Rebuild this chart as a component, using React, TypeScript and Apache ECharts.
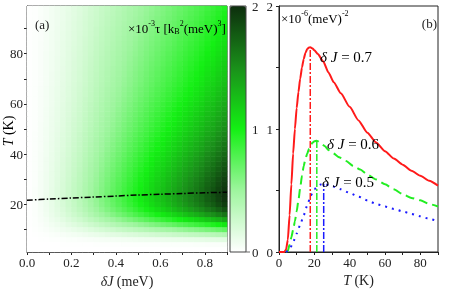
import React, { useEffect, useRef } from 'react';
import * as echarts from 'echarts';

// ---- Panel (a): heatmap tau(deltaJ, T), x10^-3 ----
const dJCenters = [0.0125, 0.0375, 0.0625, 0.0875, 0.1125, 0.1375, 0.1625, 0.1875, 0.2125, 0.2375,
  0.2625, 0.2875, 0.3125, 0.3375, 0.3625, 0.3875, 0.4125, 0.4375, 0.4625, 0.4875,
  0.5125, 0.5375, 0.5625, 0.5875, 0.6125, 0.6375, 0.6625, 0.6875, 0.7125, 0.7375,
  0.7625, 0.7875, 0.8125, 0.8375, 0.8625, 0.8875];
const dJProfile = [0.003, 0.012, 0.026, 0.043, 0.062, 0.083, 0.105, 0.13, 0.155, 0.18,
  0.21, 0.24, 0.27, 0.3, 0.33, 0.36, 0.39, 0.42, 0.45, 0.48,
  0.51, 0.54, 0.57, 0.6, 0.63, 0.66, 0.69, 0.72, 0.75, 0.78,
  0.81, 0.84, 0.88, 0.91, 0.95, 0.99];
const tCenters = [2, 4, 6, 8, 10, 12, 14, 16, 18, 20, 22, 24, 26, 28, 30, 32, 34, 36, 38, 40,
  42, 44, 46, 48, 50, 52, 54, 56, 58, 60, 62, 64, 66, 68, 70, 72, 74, 76, 78, 80,
  82, 84, 86, 88, 90, 92, 94, 96, 98];
const tProfile = [0.0, 0.03, 0.15, 0.4, 0.72, 1.05, 1.38, 1.65, 1.83, 1.94,
  1.99, 2.0, 1.98, 1.95, 1.92, 1.88, 1.84, 1.8, 1.76, 1.72,
  1.67, 1.64, 1.6, 1.56, 1.52, 1.49, 1.46, 1.43, 1.4, 1.37,
  1.34, 1.31, 1.29, 1.26, 1.24, 1.22, 1.2, 1.18, 1.16, 1.14,
  1.12, 1.1, 1.08, 1.06, 1.04, 1.02, 1.0, 0.98, 0.96];

const peakLineDJ = [0, 0.1, 0.2, 0.3, 0.4, 0.5, 0.6, 0.7, 0.8, 0.9];
const peakLineT = [21.6, 22.1, 22.5, 22.9, 23.3, 23.7, 24.0, 24.3, 24.6, 24.8];

const leftXLabels = [0, 0.2, 0.4, 0.6, 0.8];
const leftXTicks = [0, 0.1, 0.2, 0.3, 0.4, 0.5, 0.6, 0.7, 0.8, 0.9];
const leftYLabels = [20, 40, 60, 80];
const leftYTicks = [10, 20, 30, 40, 50, 60, 70, 80, 90];
const colorbarLabels = ['2', '1', '0'];

// ---- Panel (b): curves x10^-6 (meV)^-2 ----
const redT = [0, 3, 4, 5, 6, 7, 8, 9, 10, 11, 12, 13, 14, 15, 16, 17, 17.7, 19, 20, 22, 25, 28, 31, 35, 40, 45, 50, 55, 60, 65, 70, 75, 80, 85, 90];
const redV = [0, 0, 0.02, 0.1, 0.3, 0.55, 0.8, 1.0, 1.17, 1.3, 1.41, 1.5, 1.57, 1.62, 1.65, 1.662, 1.665, 1.655, 1.64, 1.61, 1.55, 1.46, 1.38, 1.29, 1.18, 1.07, 0.97, 0.89, 0.82, 0.76, 0.71, 0.66, 0.62, 0.58, 0.54];
const greenT = [4, 5, 6, 7, 8, 9, 10, 11, 12, 13, 14, 15, 16, 17, 18, 19, 20, 21.4, 22, 24, 26, 28, 30, 34, 38, 42, 46, 50, 55, 60, 65, 70, 75, 80, 85, 90];
const greenV = [0, 0.01, 0.06, 0.12, 0.18, 0.25, 0.33, 0.42, 0.52, 0.62, 0.7, 0.76, 0.8, 0.84, 0.87, 0.89, 0.9, 0.905, 0.9, 0.88, 0.86, 0.83, 0.81, 0.77, 0.74, 0.7, 0.67, 0.63, 0.59, 0.55, 0.51, 0.47, 0.44, 0.42, 0.39, 0.37];
const blueT = [4, 6, 8, 10, 12, 14, 16, 18, 20, 22, 24, 25.3, 26, 28, 30, 35, 40, 45, 50, 55, 60, 65, 70, 75, 80, 85, 90];
const blueV = [0, 0.02, 0.08, 0.15, 0.22, 0.3, 0.38, 0.46, 0.51, 0.54, 0.55, 0.555, 0.55, 0.545, 0.535, 0.51, 0.48, 0.45, 0.42, 0.39, 0.37, 0.35, 0.33, 0.31, 0.29, 0.27, 0.25];
const peakT = [17.7, 21.4, 25.3];
const peakV = [1.665, 0.905, 0.555];
const curveLabels = ['0.7', '0.6', '0.5'];

const rightXLabels = [0, 20, 40, 60, 80];
const rightXTicks = [0, 10, 20, 30, 40, 50, 60, 70, 80, 90];
const rightYLabels = [0, 1, 2];
const rightYTicks = [0, 0.5, 1, 1.5, 2];

const FONT = 'Liberation Serif';
const INK = '#222';

export default function App() {
  const ref = useRef<HTMLDivElement>(null);
  useEffect(() => {
    if (!ref.current) return;
    const chart = echarts.init(ref.current, undefined, { renderer: 'svg' });

    const heat: number[][] = [];
    for (let i = 0; i < dJCenters.length; i++) {
      for (let j = 0; j < tCenters.length; j++) {
        heat.push([i, j, Math.round(dJProfile[i] * tProfile[j] * 1000) / 1000]);
      }
    }

    const labelStyle = { fontFamily: FONT, fontSize: 13, color: INK };
    const nameStyle = {
      fontFamily: FONT, fontSize: 14, color: INK,
      rich: { i: { fontFamily: FONT, fontSize: 14, fontStyle: 'italic', color: INK } },
    };
    const axisLine = { show: true, lineStyle: { color: INK, width: 1 } };

    const valueAxis = (extra: any) => ({
      type: 'value',
      axisLine,
      splitLine: { show: false },
      ...extra,
    });

    const option: any = {
      animation: false,
      grid: [
        { left: 27, top: 6, width: 200, height: 246, show: true, borderColor: INK, borderWidth: 1, backgroundColor: 'transparent', containLabel: false, outerBoundsMode: 'none' },
        { left: 279, top: 6, width: 159, height: 246, show: true, borderColor: INK, borderWidth: 1, backgroundColor: 'transparent', containLabel: false, outerBoundsMode: 'none' },
      ],
      xAxis: [
        { type: 'category', gridIndex: 0, data: dJCenters.map(String), show: false, boundaryGap: true },
        valueAxis({
          gridIndex: 0, position: 'bottom', min: 0, max: 0.9,
          axisTick: { show: true, inside: false, length: 3, customValues: leftXTicks, lineStyle: { color: INK } },
          axisLabel: { ...labelStyle, margin: 4, customValues: leftXLabels, formatter: (v: number) => v.toFixed(1) },
          name: '{i|δJ} (meV)', nameLocation: 'middle', nameGap: 22, nameTextStyle: nameStyle,
        }),
        valueAxis({
          gridIndex: 1, position: 'bottom', min: 0, max: 90,
          axisTick: { show: true, inside: false, length: 3, customValues: rightXTicks, lineStyle: { color: INK } },
          axisLabel: { ...labelStyle, margin: 4, customValues: rightXLabels },
          name: '{i|T} (K)', nameLocation: 'middle', nameGap: 21, nameTextStyle: nameStyle,
        }),
      ],
      yAxis: [
        { type: 'category', gridIndex: 0, data: tCenters.map(String), show: false, boundaryGap: true },
        valueAxis({
          gridIndex: 0, position: 'left', min: 1, max: 99,
          axisTick: { show: true, inside: false, length: 3, customValues: leftYTicks, lineStyle: { color: INK } },
          axisLabel: { ...labelStyle, margin: 4, customValues: leftYLabels },
        }),
        valueAxis({
          gridIndex: 1, position: 'left', min: 0, max: 2,
          axisTick: { show: true, inside: false, length: 3, customValues: rightYTicks, lineStyle: { color: INK } },
          axisLabel: { ...labelStyle, margin: 6, customValues: rightYLabels },
        }),
      ],
      visualMap: {
        type: 'continuous', min: 0, max: 2, seriesIndex: 0, dimension: 2,
        calculable: false, hoverLink: false, left: 230, top: 6, padding: 0,
        itemWidth: 16, itemHeight: 246, orient: 'vertical',
        inRange: { color: ['#ffffff', '#9ef59e', '#14f014', '#1a8f1a', '#0d2e0d'] },
        textStyle: { color: 'transparent' },
      },
      series: [
        {
          type: 'heatmap', xAxisIndex: 0, yAxisIndex: 0, data: heat,
          itemStyle: { borderWidth: 0 }, emphasis: { disabled: true }, silent: true,
        },
        {
          type: 'line', xAxisIndex: 1, yAxisIndex: 1, symbol: 'none', smooth: 0.3, z: 5,
          data: peakLineDJ.map((d, i) => [d, peakLineT[i]]),
          lineStyle: { color: '#000', width: 1.5, type: [6, 2, 1.5, 2] },
        },
        {
          type: 'line', xAxisIndex: 2, yAxisIndex: 2, symbol: 'none', smooth: 0.2, smoothMonotone: 'x',
          data: redT.map((t, i) => [t, redV[i]]),
          lineStyle: { color: '#ff1a1a', width: 2 },
        },
        {
          type: 'line', xAxisIndex: 2, yAxisIndex: 2, symbol: 'none', smooth: 0.2, smoothMonotone: 'x',
          data: greenT.map((t, i) => [t, greenV[i]]),
          lineStyle: { color: '#22ee22', width: 2, type: [9, 5] },
        },
        {
          type: 'line', xAxisIndex: 2, yAxisIndex: 2, symbol: 'none', smooth: 0.2, smoothMonotone: 'x',
          data: blueT.map((t, i) => [t, blueV[i]]),
          lineStyle: { color: '#1a1aff', width: 2, type: [2, 5] },
        },
        ...['#ff1a1a', '#22ee22', '#1a1aff'].map((c, k) => ({
          type: 'line', xAxisIndex: 2, yAxisIndex: 2, symbol: 'none',
          data: [[peakT[k], 0], [peakT[k], peakV[k]]],
          lineStyle: { color: c, width: 1.5, type: [7, 2, 2, 2] },
        })),
      ],
      graphic: {
        elements: [
          { type: 'rect', z: 100, shape: { x: 230, y: 6, width: 16, height: 246 }, style: { fill: 'none', stroke: '#444', lineWidth: 1 }, silent: true },
          { type: 'line', z: 100, shape: { x1: 246, y1: 252, x2: 250, y2: 252 }, style: { stroke: '#666', lineWidth: 1 } },
          ...colorbarLabels.map((t, k) => ({
            type: 'text', z: 100, x: 252, y: 6 + k * 123,
            style: { text: t, font: `13px "${FONT}"`, fill: INK, textAlign: 'left', textVerticalAlign: 'middle' },
          })),
          {
            type: 'text', z: 100, x: 8, y: 131, rotation: Math.PI / 2,
            style: {
              text: '{i|T}{m| (K)}', textAlign: 'center', textVerticalAlign: 'middle',
              rich: {
                i: { fontFamily: FONT, fontSize: 14, fontStyle: 'italic', color: INK },
                m: { fontFamily: FONT, fontSize: 14, color: INK },
              },
            },
          },
          {
            type: 'text', z: 100, x: 35, y: 24,
            style: { text: '(a)', font: `13px "${FONT}"`, fill: INK, textAlign: 'left', textVerticalAlign: 'middle' },
          },
          {
            type: 'text', z: 100, x: 128, y: 27,
            style: {
              text: '{m|×10}{s|-3}{m|τ [k}{b|B}{s|2}{m|(meV)}{s|3}{m|]}',
              textAlign: 'left', textVerticalAlign: 'middle',
              rich: {
                m: { fontFamily: FONT, fontSize: 13, color: INK, lineHeight: 16, verticalAlign: 'bottom' },
                s: { fontFamily: FONT, fontSize: 8, color: INK, lineHeight: 9, verticalAlign: 'top' },
                b: { fontFamily: FONT, fontSize: 8, color: INK, lineHeight: 9, verticalAlign: 'bottom' },
              },
            },
          },
          {
            type: 'text', z: 100, x: 281, y: 17,
            style: {
              text: '{m|×10}{s|-6}{m|(meV)}{s|-2}',
              textAlign: 'left', textVerticalAlign: 'middle',
              rich: {
                m: { fontFamily: FONT, fontSize: 13, color: INK, lineHeight: 16, verticalAlign: 'bottom' },
                s: { fontFamily: FONT, fontSize: 8, color: INK, lineHeight: 9, verticalAlign: 'top' },
              },
            },
          },
          {
            type: 'text', z: 100, x: 437, y: 23,
            style: { text: '(b)', font: `13px "${FONT}"`, fill: INK, textAlign: 'right', textVerticalAlign: 'middle' },
          },
          ...curveLabels.map((v, k) => ({
            type: 'text', z: 100, x: [320, 327, 322][k], y: [57, 144, 182][k],
            style: {
              text: `{i|δ J}{m| = ${v}}`,
              textAlign: 'left', textVerticalAlign: 'middle',
              rich: {
                i: { fontFamily: FONT, fontSize: 15, fontStyle: 'italic', color: INK },
                m: { fontFamily: FONT, fontSize: 15, color: INK },
              },
            },
          })),
        ],
      },
    };

    chart.setOption(option);
    return () => chart.dispose();
  }, []);

  return <div ref={ref} style={{ position: 'fixed', left: 0, top: 0, width: 457, height: 289 }} />;
}
